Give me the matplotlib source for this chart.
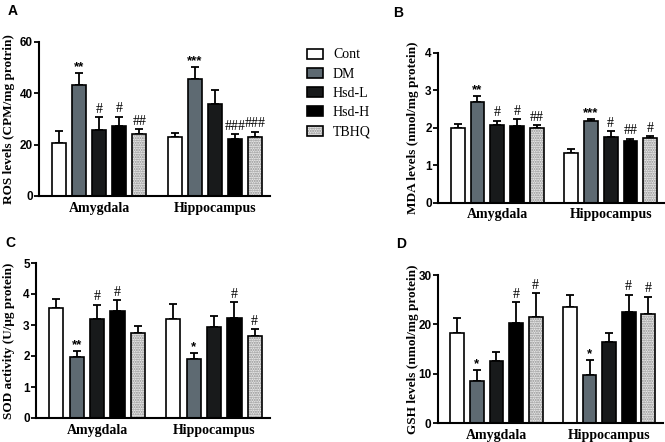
import numpy as np
import matplotlib
matplotlib.use('Agg')
import matplotlib.pyplot as plt
from matplotlib.legend_handler import HandlerTuple

# groups and treatments
regions = ['Amygdala', 'Hippocampus']
groups = ['Cont', 'DM', 'Hsd-L', 'Hsd-H', 'TBHQ']

# panel A: ROS
ros_amy = [20.7, 43.3, 25.8, 27.4, 24.1]
ros_amy_err = [4.6, 4.7, 4.8, 3.5, 1.9]
ros_hip = [23.0, 45.5, 35.9, 22.4, 23.0]
ros_hip_err = [1.5, 4.8, 5.5, 1.6, 2.0]
ros_sig = [['', '**', '#', '#', '##'], ['', '***', '', '###', '###']]

# panel B: MDA
mda_amy = [1.98, 2.68, 2.06, 2.05, 1.98]
mda_amy_err = [0.13, 0.17, 0.13, 0.17, 0.09]
mda_hip = [1.33, 2.17, 1.75, 1.64, 1.72]
mda_hip_err = [0.11, 0.06, 0.15, 0.07, 0.06]
mda_sig = [['', '**', '#', '#', '##'], ['', '***', '#', '##', '#']]

# panel C: SOD
sod_amy = [3.56, 1.96, 3.19, 3.44, 2.75]
sod_amy_err = [0.27, 0.21, 0.46, 0.37, 0.21]
sod_hip = [3.19, 1.90, 2.95, 3.24, 2.65]
sod_hip_err = [0.50, 0.20, 0.34, 0.50, 0.22]
sod_sig = [['', '**', '#', '#', ''], ['', '*', '', '#', '#']]

# panel D: GSH
gsh_amy = [18.3, 8.5, 12.6, 20.3, 21.5]
gsh_amy_err = [3.0, 2.2, 1.7, 4.2, 4.8]
gsh_hip = [23.5, 9.8, 16.4, 22.4, 22.1]
gsh_hip_err = [2.4, 2.9, 1.9, 3.6, 3.5]
gsh_sig = [['', '*', '', '#', '#'], ['', '*', '', '#', '#']]

face = ['white', '#5e6a72', '#181a1b', '#000000', '#e8e8e8']

W, H = 665, 442
fig = plt.figure(figsize=(W / 100, H / 100), dpi=100)

def px_axes(x0, x1, ytop, ybot):
    return fig.add_axes([x0 / W, 1 - ybot / H, (x1 - x0) / W, (ybot - ytop) / H])

def panel(ax, amy, amy_err, hip, hip_err, sig, ymax, step, ylabel):
    centers = [0, 5.75]
    handles = []
    for g, (vals, errs) in enumerate([(amy, amy_err), (hip, hip_err)]):
        for i in range(5):
            x = centers[g] + i - 2
            ax.errorbar(x, vals[i], yerr=[[0], [errs[i]]], fmt='none', ecolor='black',
                        elinewidth=1.3, capsize=3, capthick=1.3, zorder=1)
            if i == 4:
                b1 = ax.bar(x, vals[i], 0.7, color=face[i], edgecolor='#8c8c8c',
                            hatch='.......', linewidth=0, zorder=2)
                b2 = ax.bar(x, vals[i], 0.7, color='none', edgecolor='black',
                            linewidth=1.2, zorder=3)
                h = (b1[0], b2[0])
            else:
                b = ax.bar(x, vals[i], 0.7, color=face[i], edgecolor='black',
                           linewidth=1.2, zorder=2)
                h = b[0]
            if g == 0:
                handles.append(h)
            s = sig[g][i]
            if s:
                if '*' in s:
                    ax.annotate(s, (x, vals[i] + errs[i]), xytext=(0, 0), textcoords='offset points',
                                ha='center', va='bottom', fontsize=9.5, fontweight='bold',
                                family='Liberation Sans')
                else:
                    ax.annotate(s, (x, vals[i] + errs[i]), xytext=(0, 1), textcoords='offset points',
                                ha='center', va='bottom', fontsize=10,
                                family='Liberation Serif')
    ax.set_xlim(-3.0, 8.5)
    ax.set_ylim(0, ymax)
    ax.set_yticks(np.arange(0, ymax + step / 2, step))
    ax.set_xticks(centers)
    ax.set_xticklabels(regions, fontsize=10, fontweight='bold', family='Liberation Serif')
    ax.tick_params(axis='x', length=0, pad=4)
    ax.tick_params(axis='y', length=3.5, width=1.3, pad=1, labelsize=8.5)
    for lab in ax.get_yticklabels():
        lab.set_fontweight('bold')
        lab.set_family('Liberation Sans')
    for sp in ['top', 'right']:
        ax.spines[sp].set_visible(False)
    for sp in ['left', 'bottom']:
        ax.spines[sp].set_linewidth(1.5)
    ax.set_ylabel(ylabel, fontsize=9.5, fontweight='bold', family='Liberation Serif')
    return handles

boxes = {'A': (39, 270, 42, 196), 'B': (438, 665, 52.7, 202.7),
         'C': (36, 270, 263, 418), 'D': (437.7, 663, 275, 423)}
axA = px_axes(*boxes['A'])
axB = px_axes(*boxes['B'])
axC = px_axes(*boxes['C'])
axD = px_axes(*boxes['D'])

hs = panel(axA, ros_amy, ros_amy_err, ros_hip, ros_hip_err, ros_sig, 60, 20,
           'ROS levels (CPM/mg protrin)')
panel(axB, mda_amy, mda_amy_err, mda_hip, mda_hip_err, mda_sig, 4, 1,
      'MDA levels (nmol/mg protein)')
panel(axC, sod_amy, sod_amy_err, sod_hip, sod_hip_err, sod_sig, 5, 1,
      'SOD activity (U/\u03bcg protein)')
panel(axD, gsh_amy, gsh_amy_err, gsh_hip, gsh_hip_err, gsh_sig, 30, 10,
      'GSH levels (nmol/mg protein)')

# y label anchor (right edge of rotated text) in figure pixels
for ax, key, xp in [(axA, 'A', 15), (axB, 'B', 419), (axC, 'C', 15), (axD, 'D', 419)]:
    x0, x1 = boxes[key][0], boxes[key][1]
    ax.yaxis.set_label_coords((xp - x0) / (x1 - x0), 0.5)

# panel letters
for lab, x, y in [('A', 8, 11), ('B', 393, 13), ('C', 5, 243), ('D', 396, 244)]:
    fig.text(x / W, 1 - y / H, lab, fontsize=10, fontweight='bold',
             family='Liberation Sans', ha='left', va='center')

fig.legend(hs, groups, loc='upper left', bbox_to_anchor=(294 / W, 1 - 36 / H),
           frameon=False, prop={'family': 'Liberation Serif', 'size': 10},
           handlelength=1.2, handleheight=0.75, handletextpad=0.7, labelspacing=0.45,
           handler_map={tuple: HandlerTuple(ndivide=1, pad=0)})

fig.savefig('out.png', dpi=100)
